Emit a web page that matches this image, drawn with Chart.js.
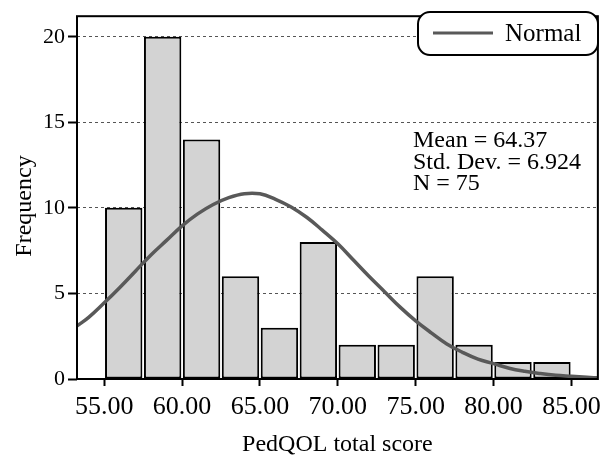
<!DOCTYPE html>
<html>
<head>
<meta charset="utf-8">
<script src="https://cdn.jsdelivr.net/npm/chart.js@4"></script>
<style>
  html, body { margin: 0; padding: 0; background: #fff; }
  #wrap { width: 607px; height: 460px; }
</style>
</head>
<body>
<div id="wrap"><canvas id="hist" width="607" height="460"></canvas></div>
<script>
// histogram bins (midpoints) and counts
var binMids = [56.25, 58.75, 61.25, 63.75, 66.25, 68.75, 71.25, 73.75, 76.25, 78.75, 81.25, 83.75];
var counts = [10, 20, 14, 6, 3, 8, 2, 2, 6, 2, 1, 1];

// normal curve
var curveX = [53.25, 54, 55, 56, 57, 58, 59, 60, 61, 62, 63, 64, 65, 66, 67, 68, 69, 70,
              71, 72, 73, 74, 75, 76, 77, 78, 79, 80, 81, 82, 83, 84, 85, 86, 86.7];
var curveY = [3.1, 3.6, 4.45, 5.35, 6.3, 7.25, 8.1, 8.95, 9.65, 10.2, 10.6, 10.83, 10.82, 10.5,
              10.05, 9.45, 8.7, 7.9, 6.95, 6.0, 5.1, 4.2, 3.4, 2.7, 2.05, 1.56, 1.16, 0.9, 0.63,
              0.45, 0.32, 0.22, 0.16, 0.1, 0.07];

var xTicks = [55, 60, 65, 70, 75, 80, 85];
var yTicks = [0, 5, 10, 15, 20];
var stats = ['Mean = 64.37', 'Std. Dev. = 6.924', 'N = 75'];

var serif = '"Liberation Serif", "Times New Roman", serif';

// frame + legend box + stats text + y title
var extras = {
    id: 'extras',
    afterDraw(chart) {
        let ctx = chart.ctx;
        let a = chart.chartArea;
        ctx.save();
        ctx.strokeStyle = '#000';
        ctx.lineWidth = 2;
        ctx.strokeRect(a.left, a.top, a.right - a.left, a.bottom - a.top);

        // legend
        ctx.beginPath();
        ctx.roundRect(418, 12, 180, 43, 12);
        ctx.fillStyle = '#fff';
        ctx.fill();
        ctx.stroke();
        ctx.beginPath();
        ctx.strokeStyle = '#595959';
        ctx.lineWidth = 3;
        ctx.moveTo(433, 33);
        ctx.lineTo(493, 33);
        ctx.stroke();
        ctx.fillStyle = '#000';
        ctx.font = '25px ' + serif;
        ctx.textBaseline = 'alphabetic';
        ctx.fillText('Normal', 505, 41);

        ctx.font = '24px ' + serif;
        stats.forEach((s, i) => {
            ctx.fillText(s, 413, 147 + i * 21.5);
        });

        // y axis title
        ctx.translate(31, 206);
        ctx.rotate(-Math.PI / 2);
        ctx.textAlign = 'center';
        ctx.fillText('Frequency', 0, 0);
        ctx.restore();
    }
};

new Chart('hist', {
    data: {
        datasets: [{
            type: 'line',
            label: 'Normal',
            data: curveX.map((x, i) => ({ x: x, y: curveY[i] })),
            borderColor: '#595959',
            borderWidth: 3.5,
            pointRadius: 0,
            tension: 0.4,
            order: 0
        }, {
            type: 'bar',
            label: 'Frequency',
            data: binMids.map((x, i) => ({ x: x, y: counts[i] })),
            backgroundColor: '#d3d3d3',
            borderColor: '#000',
            borderWidth: 2,
            borderSkipped: false,
            barPercentage: 0.96,
            categoryPercentage: 1,
            order: 1
        }]
    },
    options: {
        responsive: false,
        animation: false,
        layout: { padding: { left: 0, right: 7, top: 8, bottom: 0 } },
        plugins: {
            legend: { display: false },
            tooltip: { enabled: false }
        },
        scales: {
            x: {
                type: 'linear',
                min: 53.25,
                max: 86.7,
                offset: false,
                afterBuildTicks: s => { s.ticks = xTicks.map(v => ({ value: v })); },
                afterFit: s => { s.height = 81; },
                grid: { offset: false, drawOnChartArea: false, tickColor: '#000', tickWidth: 2, tickLength: 7 },
                border: { display: false },
                ticks: {
                    color: '#000',
                    padding: 6,
                    maxRotation: 0,
                    font: { family: serif, size: 26 },
                    callback: v => v.toFixed(2)
                },
                title: {
                    display: true,
                    text: 'PedQOL total score',
                    color: '#000',
                    font: { family: serif, size: 24 },
                    padding: { top: 0, bottom: 1 }
                }
            },
            y: {
                min: 0,
                max: 21.2,
                afterBuildTicks: s => { s.ticks = yTicks.map(v => ({ value: v })); },
                afterFit: s => { s.width = 77; },
                grid: { color: '#555', lineWidth: 1, tickColor: '#000', tickWidth: 2, tickLength: 9 },
                border: { display: false, dash: [3, 3] },
                ticks: {
                    color: '#000',
                    padding: 3,
                    font: { family: serif, size: 22 }
                }
            }
        }
    },
    plugins: [extras]
});
</script>
</body>
</html>
